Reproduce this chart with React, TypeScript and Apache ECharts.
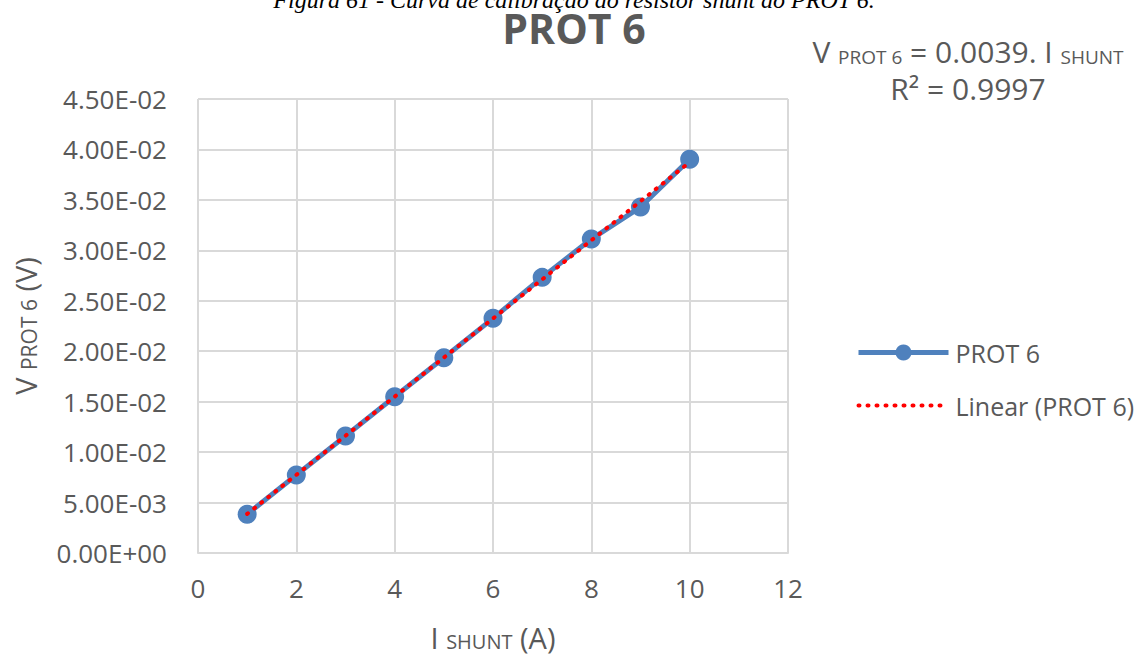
import React, { useEffect, useRef } from "react";
import * as echarts from "echarts";

const currents = [1, 2, 3, 4, 5, 6, 7, 8, 9, 10];
const voltages = [0.00384, 0.00773, 0.0116, 0.01549, 0.01936, 0.02326, 0.02732, 0.03112, 0.03429, 0.03902];
const seriesName = "PROT 6";
const trendName = "Linear (PROT 6)";
const captionText = "Figura 61 - Curva de calibração do resistor shunt do PROT 6.";
const eqSlope = "0.0039";
const eqR2 = "0.9997";

const GRAY = "#595959";
const FONT = "'Open Sans', 'Noto Sans', sans-serif";

function fmtExp(v: number): string {
  const s = v.toExponential(2).toUpperCase();
  const m = s.match(/^(-?[\d.]+)E([+-])(\d+)$/);
  if (!m) return s;
  const e = m[3].length < 2 ? "0" + m[3] : m[3];
  return `${m[1]}E${m[2]}${e}`;
}

export default function App() {
  const ref = useRef<HTMLDivElement>(null);
  useEffect(() => {
    document.body.style.margin = "0";
    if (!ref.current) return;
    const chart = echarts.init(ref.current, undefined, { renderer: "svg" });
    // least-squares fit through origin (trendline)
    let sxy = 0, sxx = 0;
    currents.forEach((x, i) => { sxy += x * voltages[i]; sxx += x * x; });
    const slope = sxy / sxx;
    const xMin = currents[0], xMax = currents[currents.length - 1];
    const trend = [[xMin, slope * xMin], [xMax, slope * xMax]];

    chart.setOption({
      animation: false,
      backgroundColor: "#ffffff",
      textStyle: { fontFamily: FONT },
      grid: { left: 198, right: 360, top: 99, bottom: 108, containLabel: false },
      title: {
        text: "PROT 6",
        left: 569,
        top: 2,
        textAlign: "center",
        textStyle: { fontFamily: FONT, fontSize: 41, fontWeight: "bold", color: GRAY },
      },
      legend: {
        orient: "vertical",
        left: 851,
        top: 335,
        itemWidth: 90,
        itemHeight: 20,
        itemGap: 28,
        textStyle: { fontFamily: FONT, fontSize: 25, color: GRAY, padding: [0, 0, 0, 2] },
        data: [
          { name: seriesName, lineStyle: { width: 5, color: "#4F81BD" }, itemStyle: { color: "#4F81BD" } },
          {
            name: trendName,
            lineStyle: { width: 4, color: "#FF0000", type: [1, 8], cap: "round" },
            itemStyle: { color: "rgba(0,0,0,0)", opacity: 0, borderWidth: 0 },
          },
        ],
      },
      xAxis: {
        type: "value",
        min: 0,
        max: 12,
        interval: 2,
        name: "{b|I }{s|SHUNT}{b| (A)}",
        nameLocation: "middle",
        nameGap: 70,
        nameTextStyle: {
          rich: {
            b: { fontFamily: FONT, fontSize: 29, color: GRAY },
            s: { fontFamily: FONT, fontSize: 20, color: GRAY, padding: [7, 0, 0, 0] },
          },
        },
        axisLine: { show: true, lineStyle: { color: "#d9d9d9", width: 2 } },
        axisTick: { show: false },
        axisLabel: { fontFamily: FONT, fontSize: 26, color: GRAY, margin: 22 },
        splitLine: { show: true, lineStyle: { color: "#d9d9d9", width: 2 } },
      },
      yAxis: {
        type: "value",
        min: 0,
        max: 0.045,
        interval: 0.005,
        name: "{b|V }{s|PROT 6}{b| (V)}",
        nameLocation: "middle",
        nameGap: 158,
        nameRotate: 90,
        nameTextStyle: {
          rich: {
            b: { fontFamily: FONT, fontSize: 29, color: GRAY },
            s: { fontFamily: FONT, fontSize: 21, color: GRAY, padding: [7, 0, 0, 0] },
          },
        },
        axisLine: { show: false },
        axisTick: { show: false },
        axisLabel: { fontFamily: FONT, fontSize: 26, color: GRAY, margin: 31, formatter: (v: number) => fmtExp(v) },
        splitLine: { show: true, lineStyle: { color: "#d9d9d9", width: 2 } },
      },
      series: [
        {
          name: seriesName,
          type: "line",
          data: currents.map((x, i) => [x, voltages[i]]),
          symbol: "circle",
          symbolSize: 19,
          itemStyle: { color: "#4F81BD" },
          lineStyle: { color: "#4F81BD", width: 5 },
          z: 2,
        },
        {
          name: trendName,
          type: "line",
          data: trend,
          showSymbol: false,
          symbol: "none",
          itemStyle: { color: "#FF0000" },
          lineStyle: { color: "#FF0000", width: 4, type: [1, 8], cap: "round" },
          z: 3,
        },
      ],
      graphic: [
        {
          type: "text",
          x: 574,
          y: 0,
          style: {
            text: captionText,
            font: "italic 24px 'Liberation Serif', 'DejaVu Serif', serif",
            fill: "#000000",
            align: "center",
            verticalAlign: "middle",
          },
        },
        {
          type: "text",
          x: 968,
          y: 51,
          style: {
            text: `{b|V }{s|PROT 6}{b| = ${eqSlope}. I }{s|SHUNT}`,
            align: "center",
            verticalAlign: "middle",
            rich: {
              b: { fontFamily: FONT, fontSize: 30, fill: GRAY },
              s: { fontFamily: FONT, fontSize: 19, fill: GRAY, padding: [12, 0, 0, 0] },
            },
          },
        },
        {
          type: "text",
          x: 968,
          y: 88,
          style: {
            text: `R² = ${eqR2}`,
            font: `30px ${FONT}`,
            fill: GRAY,
            align: "center",
            verticalAlign: "middle",
          },
        },
      ],
    });
    return () => chart.dispose();
  }, []);
  return <div ref={ref} style={{ width: 1148, height: 661 }} />;
}
